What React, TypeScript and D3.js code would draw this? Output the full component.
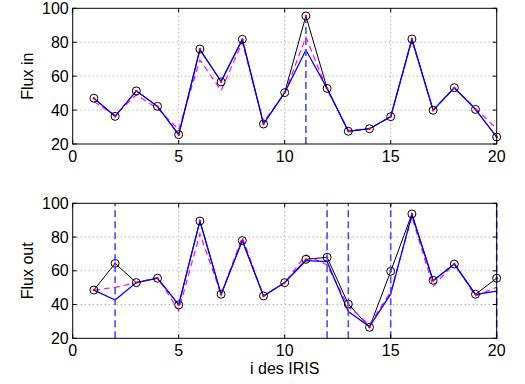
import React from "react";
import * as d3 from "d3";

const idx = d3.range(1, 21);

// Top panel: Flux in
const inObserved = [47, 36.3, 51.3, 42.2, 25.5, 76, 56.6, 81.7, 31.8, 50.3, 95.5, 52.8, 27.5, 29, 36.1, 81.9, 39.9, 53.2, 40.4, 24.1];
const inModelA = [47, 36.3, 51.3, 42.2, 25.5, 75.5, 57, 81.7, 31.8, 50.3, 75.4, 52.8, 27.5, 29, 36.1, 81.9, 39.9, 53.2, 40.4, 24.1];
const inModelB = [45, 37, 49, 41, 28.5, 69.5, 51.5, 80, 33, 50, 83, 52, 28, 29, 36, 81, 40, 53, 41, 29];
const inMarks = [11];

// Bottom panel: Flux out
const outObserved = [48.6, 64.4, 53, 55.6, 39.8, 89.5, 46.1, 77.9, 45.1, 53, 66.8, 68, 40.3, 26.5, 59.7, 93.7, 54.4, 64, 46.1, 55.6];
const outModelA = [48.6, 42.7, 53, 55.6, 40, 89.5, 46, 78, 45, 53, 66, 65.4, 35.8, 27, 46.3, 93.3, 54, 64, 46, 48];
const outModelB = [48.6, 50.2, 53, 56, 36.5, 82, 46, 79.9, 45, 53, 69.4, 63.5, 38.8, 28, 47.6, 92, 50.6, 64.4, 45, 50.3];
const outMarks = [2, 12, 13, 15, 20];

const xTicks = [0, 5, 10, 15, 20];
const yTicks = [20, 40, 60, 80, 100];

const FONT = "'Liberation Sans', Arial, Helvetica, sans-serif";

type PanelProps = {
  top: number;
  bottom: number;
  obs: number[];
  a: number[];
  b: number[];
  marks: number[];
  marksToData: boolean;
  ylabel: string;
  xlabel?: string;
};

const X0 = 72.7;
const X1 = 496.7;

function Panel({ top, bottom, obs, a, b, marks, marksToData, ylabel, xlabel }: PanelProps) {
  const x = d3.scaleLinear().domain([0, 20]).range([X0, X1]);
  const y = d3.scaleLinear().domain([20, 100]).range([bottom, top]);
  const line = (vals: number[]) =>
    d3.line<number>().x((_, i) => x(idx[i])).y((v) => y(v))(vals) || "";
  const tl = 4;
  return (
    <g>
      {/* grid */}
      {xTicks.slice(1, -1).map((t) => (
        <line key={"gx" + t} x1={x(t)} x2={x(t)} y1={top} y2={bottom} stroke="#7a7a7a" strokeWidth={0.8} strokeDasharray="1,3" />
      ))}
      {yTicks.slice(1, -1).map((t) => (
        <line key={"gy" + t} x1={X0} x2={X1} y1={y(t)} y2={y(t)} stroke="#7a7a7a" strokeWidth={0.8} strokeDasharray="1,3" />
      ))}
      {/* lines */}
      <path d={line(obs)} fill="none" stroke="#000" strokeWidth={1} />
      <path d={line(b)} fill="none" stroke="#ff00ff" strokeWidth={1.2} strokeDasharray="6,4" />
      <path d={line(a)} fill="none" stroke="#0000ff" strokeWidth={1.3} />
      {/* markers */}
      {obs.map((v, i) => (
        <circle key={"c" + i} cx={x(idx[i])} cy={y(v)} r={4} fill="none" stroke="#000" strokeWidth={1} />
      ))}
      {obs.map((v, i) => (
        <circle key={"r" + i} cx={x(idx[i])} cy={y(v)} r={1.2} fill="#ff0000" />
      ))}
      {/* vertical dashed markers */}
      {marks.map((m) => (
        <line
          key={"m" + m}
          x1={x(m)}
          x2={x(m)}
          y1={bottom}
          y2={marksToData ? y(obs[m - 1]) + 4 : top}
          stroke="#4a4aff"
          strokeWidth={1.6}
          strokeDasharray="7,4"
        />
      ))}
      {/* axes box */}
      <rect x={X0} y={top} width={X1 - X0} height={bottom - top} fill="none" stroke="#000" strokeWidth={1} />
      {/* ticks */}
      {xTicks.map((t) => (
        <g key={"xt" + t}>
          <line x1={x(t)} x2={x(t)} y1={bottom} y2={bottom - tl} stroke="#000" />
          <line x1={x(t)} x2={x(t)} y1={top} y2={top + tl} stroke="#000" />
          <text x={x(t)} y={bottom + 18} textAnchor="middle" fontFamily={FONT} fontSize={16} fill="#000">
            {t}
          </text>
        </g>
      ))}
      {yTicks.map((t) => (
        <g key={"yt" + t}>
          <line x1={X0} x2={X0 + tl} y1={y(t)} y2={y(t)} stroke="#000" />
          <line x1={X1} x2={X1 - tl} y1={y(t)} y2={y(t)} stroke="#000" />
          <text x={X0 - 4} y={y(t) + 5.5} textAnchor="end" fontFamily={FONT} fontSize={16} fill="#000">
            {t}
          </text>
        </g>
      ))}
      <text
        transform={`translate(33,${(top + bottom) / 2}) rotate(-90)`}
        textAnchor="middle"
        fontFamily={FONT}
        fontSize={16}
        fill="#000"
      >
        {ylabel}
      </text>
      {xlabel && (
        <text x={(X0 + X1) / 2} y={bottom + 36} textAnchor="middle" fontFamily={FONT} fontSize={16} fill="#000">
          {xlabel}
        </text>
      )}
    </g>
  );
}

export default function App() {
  return (
    <svg width={525} height={384} style={{ position: "absolute", left: 0, top: 0, background: "#fff" }}>
      <rect width={525} height={384} fill="#fff" />
      <Panel top={8.3} bottom={144} obs={inObserved} a={inModelA} b={inModelB} marks={inMarks} marksToData={true} ylabel="Flux in" />
      <Panel
        top={203.3}
        bottom={338.3}
        obs={outObserved}
        a={outModelA}
        b={outModelB}
        marks={outMarks}
        marksToData={false}
        ylabel="Flux out"
        xlabel="i des IRIS"
      />
    </svg>
  );
}
